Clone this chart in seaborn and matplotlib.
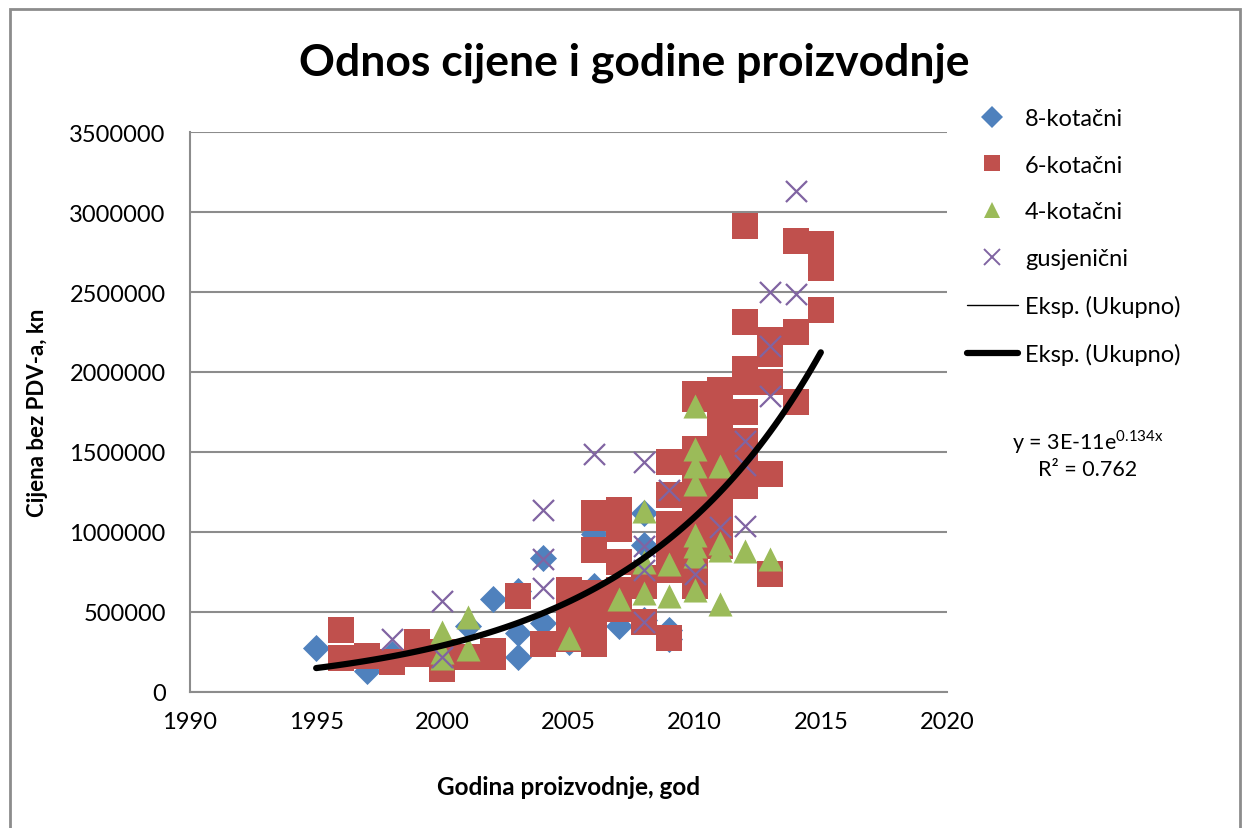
import matplotlib
matplotlib.use("Agg")
import matplotlib.pyplot as plt
import matplotlib.patches as mpatches
from matplotlib.lines import Line2D
from matplotlib.ticker import FuncFormatter
import numpy as np
import pandas as pd
import seaborn as sns

# values (year, price in kn)
years_8 = [1995, 1997, 1998, 2001, 2002, 2003, 2003, 2003, 2004, 2004, 2005, 2006, 2006,
           2007, 2008, 2008, 2008, 2009, 2009]
price_8 = [275000, 130000, 240000, 410000, 580000, 630000, 370000, 220000, 840000, 430000,
           310000, 990000, 660000, 410000, 1120000, 920000, 450000, 390000, 330000]

years_6 = [1996, 1996, 1997, 1998, 1999, 1999, 2000, 2000, 2001, 2002, 2002, 2003, 2004,
           2005, 2005, 2005, 2005, 2005,
           2006, 2006, 2006, 2006, 2006, 2006, 2006,
           2007, 2007, 2007, 2007, 2007, 2007,
           2008, 2008, 2008,
           2009, 2009, 2009, 2009, 2009, 2009, 2009,
           2010, 2010, 2010, 2010, 2010, 2010, 2010, 2010, 2010, 2010, 2010, 2010,
           2011, 2011, 2011, 2011, 2011, 2011, 2011, 2011, 2011, 2011, 2011,
           2012, 2012, 2012, 2012, 2012, 2012, 2012, 2012, 2012,
           2013, 2013, 2013, 2013, 2013,
           2014, 2014, 2014,
           2015, 2015, 2015, 2015]
price_6 = [390000, 210000, 225000, 190000, 310000, 240000, 250000, 145000, 220000, 255000,
           220000, 600000, 300000,
           640000, 560000, 480000, 400000, 330000,
           1120000, 1090000, 890000, 620000, 550000, 440000, 300000,
           1140000, 1080000, 1020000, 810000, 640000, 520000,
           710000, 660000, 440000,
           1440000, 1230000, 1050000, 950000, 850000, 760000, 340000,
           1860000, 1830000, 1520000, 1450000, 1300000, 1200000, 1100000, 1000000, 900000,
           800000, 700000, 660000,
           1890000, 1750000, 1680000, 1600000, 1500000, 1400000, 1300000, 1200000, 1100000,
           1000000, 910000,
           2910000, 2310000, 2020000, 1940000, 1750000, 1570000, 1500000, 1400000, 1290000,
           2200000, 2110000, 1940000, 1360000, 740000,
           2820000, 2250000, 1810000,
           2800000, 2730000, 2650000, 2390000]

years_4 = [2000, 2000, 2000, 2001, 2001, 2005, 2007, 2008, 2008, 2008, 2009, 2009,
           2010, 2010, 2010, 2010, 2010, 2010, 2010, 2010,
           2011, 2011, 2011, 2011, 2012, 2013]
price_4 = [375000, 250000, 210000, 470000, 270000, 340000, 580000, 1130000, 810000, 620000,
           800000, 600000,
           1790000, 1520000, 1410000, 1300000, 980000, 910000, 850000, 640000,
           1410000, 930000, 890000, 550000, 880000, 830000]

years_g = [1998, 2000, 2000, 2004, 2004, 2004, 2006, 2008, 2008, 2008, 2008, 2009, 2010,
           2011, 2012, 2012, 2012, 2013, 2013, 2013, 2014, 2014]
price_g = [330000, 570000, 220000, 1140000, 830000, 650000, 1490000, 1440000, 910000, 760000,
           440000, 1260000, 740000, 1030000, 1570000, 1420000, 1040000, 2500000, 2160000,
           1850000, 3130000, 2490000]

categories = ["8-kotačni", "6-kotačni", "4-kotačni", "gusjenični"]
trend_label = "Eksp. (Ukupno)"
equation = "y = 3E-11e$^{\\mathregular{0.134x}}$\nR² = 0.762"

series = {
    "8-kotačni": (years_8, price_8),
    "6-kotačni": (years_6, price_6),
    "4-kotačni": (years_4, price_4),
    "gusjenični": (years_g, price_g),
}
df = pd.concat(
    [pd.DataFrame({"godina": y, "cijena": p, "vrsta": k}) for k, (y, p) in series.items()],
    ignore_index=True,
)

# exponential trend over all vehicles (Excel style: linear fit on log)
b, ln_a = np.polyfit(df["godina"], np.log(df["cijena"]), 1)
trend_x = np.linspace(1995, 2015, 100)
trend = pd.DataFrame({"godina": trend_x, "cijena": np.exp(ln_a + b * trend_x)})

colors = {"8-kotačni": "#4F81BD", "6-kotačni": "#C0504D", "4-kotačni": "#9BBB59",
          "gusjenični": "#8064A2"}
markers = {"8-kotačni": "D", "6-kotačni": "s", "4-kotačni": "^", "gusjenični": "x"}
sizes = {"8-kotačni": 190, "6-kotačni": 330, "4-kotačni": 300, "gusjenični": 230}

sns.set_theme(style="white")
plt.rcParams["font.family"] = ["Lato", "DejaVu Sans"]
plt.rcParams["text.color"] = "black"
plt.rcParams["axes.labelcolor"] = "black"

fig = plt.figure(figsize=(12.49, 8.29), dpi=100)
ax = fig.add_axes([190 / 1249, 1 - 693 / 829, (947 - 190) / 1249, (693 - 133) / 829])

for k in categories:
    sub = df[df["vrsta"] == k]
    if markers[k] == "x":
        sns.scatterplot(data=sub, x="godina", y="cijena", marker="x", s=sizes[k],
                        color=colors[k], linewidth=1.6, ax=ax, legend=False, zorder=3)
    else:
        sns.scatterplot(data=sub, x="godina", y="cijena", marker=markers[k], s=sizes[k],
                        color=colors[k], linewidth=0, ax=ax, legend=False, zorder=3)

sns.lineplot(data=trend, x="godina", y="cijena", color="black", linewidth=1, ax=ax,
             legend=False, zorder=4)
sns.lineplot(data=trend, x="godina", y="cijena", color="black", linewidth=4.5, ax=ax,
             legend=False, zorder=5)

ax.set_xlim(1990, 2020)
ax.set_ylim(0, 3500000)
ax.set_xticks(range(1990, 2021, 5))
ax.set_yticks(range(0, 3500001, 500000))
ax.yaxis.set_major_formatter(FuncFormatter(lambda v, p: f"{int(v)}"))
ax.grid(axis="y", color="#8C8C8C", linewidth=1.5)
ax.set_axisbelow(True)
for s in ["top", "right"]:
    ax.spines[s].set_visible(False)
for s in ["left", "bottom"]:
    ax.spines[s].set_color("#8C8C8C")
    ax.spines[s].set_linewidth(1.5)
ax.tick_params(axis="both", which="major", labelsize=17, labelcolor="black",
               color="#8C8C8C", direction="out", length=5.5, width=1.5)
ax.tick_params(axis="x", pad=8)
ax.tick_params(axis="y", pad=12)

ax.set_xlabel("Godina proizvodnje, god", fontsize=17.5, fontweight="bold", labelpad=31)
ax.set_ylabel("Cijena bez PDV-a, kn", fontsize=16, fontweight="bold", labelpad=15)

fig.text(634 / 1249, 1 - 63 / 829, "Odnos cijene i godine proizvodnje", ha="center",
         va="center", fontsize=32, fontweight="bold")

handles = [Line2D([], [], linestyle="none", marker=markers[k], color=colors[k],
                  markersize=11, markeredgewidth=0 if k != "gusjenični" else 1.4)
           for k in categories]
handles.append(Line2D([], [], color="black", linewidth=1))
handles.append(Line2D([], [], color="black", linewidth=4.5))
labels = categories + [trend_label, trend_label]
fig.legend(handles, labels, loc="upper left", bbox_to_anchor=(967 / 1249, 1 - 109 / 829),
           frameon=False, fontsize=17, handlelength=2.15, handletextpad=0.3,
           labelspacing=1.09, borderaxespad=0, borderpad=0)

fig.text(1088 / 1249, 1 - 454 / 829, equation, ha="center", va="center", fontsize=15.5,
         linespacing=1.25)

fig.patches.append(mpatches.Rectangle((10 / 1249, -0.05), 1230 / 1249, 1.05 - 10 / 829,
                                      transform=fig.transFigure, fill=False,
                                      edgecolor="#8C8C8C", linewidth=2))

fig.savefig("out.png", dpi=100)
